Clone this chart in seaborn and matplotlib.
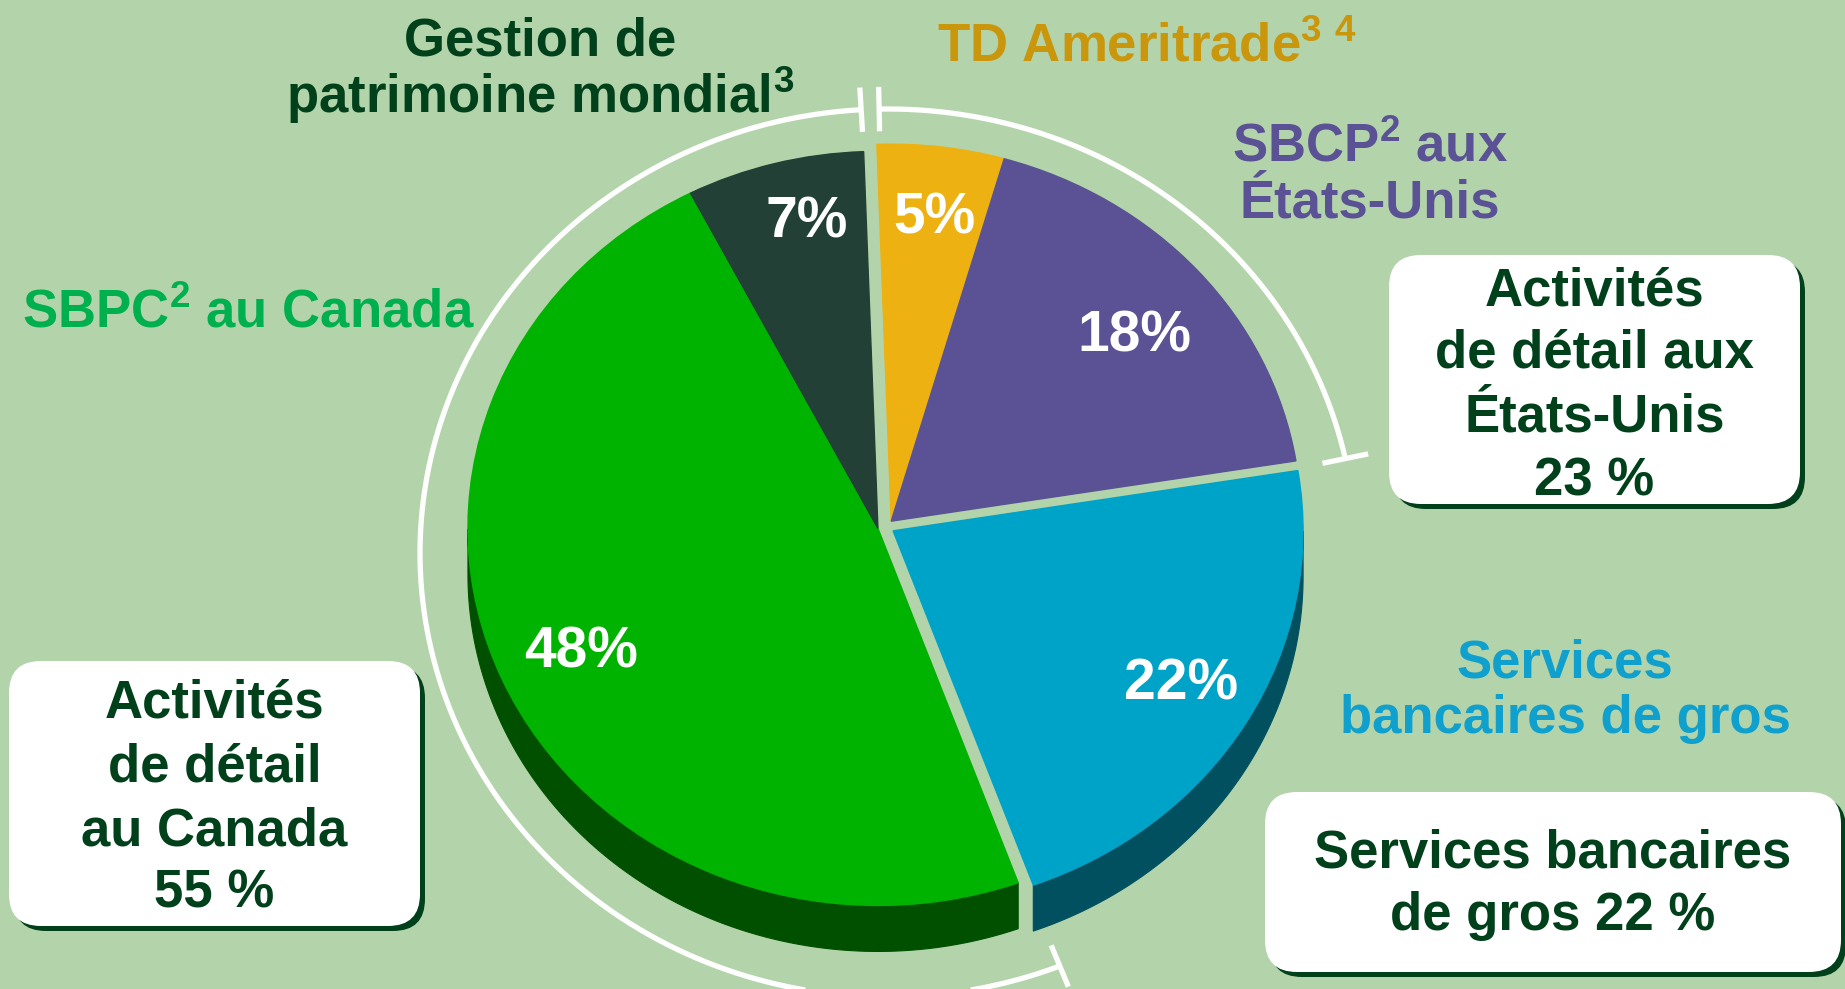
import numpy as np
import matplotlib
matplotlib.use('Agg')
import matplotlib.pyplot as plt
import seaborn as sns
from matplotlib.patches import FancyBboxPatch
from matplotlib.transforms import Affine2D

# Pie segments, clockwise from 12 o'clock
segments = ['TD Ameritrade', 'SBCP aux États-Unis', 'Services bancaires de gros',
            'SBPC au Canada', 'Gestion de patrimoine mondial']
shares = [5, 18, 22, 48, 7]
pct_text = ['5%', '18%', '22%', '48%', '7%']
segment_group = ['us', 'us', 'gros', 'canada', 'canada']

# Totals per business group (white boxes)
group_keys = ['us', 'gros', 'canada']
group_totals = [23, 22, 55]
group_lines = [['Activités', 'de détail aux', 'États-Unis', '{} %'],
               ['Services bancaires', 'de gros {} %'],
               ['Activités', 'de détail', 'au Canada', '{} %']]

# Colours
BG = '#B3D4AA'
DARK = '#00401A'
top_colors = ['#EDB111', '#5A5294', '#00A3C8', '#00B300', '#224035']
side_colors = ['#A67C0C', '#3B3668', '#00505F', '#005000', '#15291F']

W, H = 1845, 989
CX, CY, RX, RY = 886, 527, 410, 377      # pie top face (pixels)
DEPTH = 46
EXPLODE = 0.02
A_CX, A_CY, A_RX, A_RY = 888, 553, 468, 444  # white bracket arcs

sns.set_theme(style='white')
plt.rcParams['font.family'] = ['Liberation Sans', 'DejaVu Sans']
plt.rcParams['font.weight'] = 'bold'
plt.rcParams['mathtext.fontset'] = 'custom'
plt.rcParams['mathtext.rm'] = 'Liberation Sans:bold'
plt.rcParams['mathtext.bf'] = 'Liberation Sans:bold'
plt.rcParams['mathtext.default'] = 'bf'

fig = plt.figure(figsize=(W / 100, H / 100), dpi=100, facecolor=BG)
ax = fig.add_axes([0, 0, 1, 1])
ax.set_facecolor(BG)

wedges, _ = ax.pie(shares, colors=top_colors, startangle=92, counterclock=False)
ax.set_aspect('auto')
ax.set_xlim(0, W)
ax.set_ylim(H, 0)
ax.axis('off')

# offset of each group (exploded pie)
offsets = {}
for g in group_keys:
    th = [(w.theta1, w.theta2) for w, sg in zip(wedges, segment_group) if sg == g]
    mid = np.radians((min(t[0] for t in th) + max(t[1] for t in th)) / 2)
    offsets[g] = (EXPLODE * np.cos(mid), EXPLODE * np.sin(mid))

for w, g, side in zip(wedges, segment_group, side_colors):
    ox, oy = offsets[g]
    w.set_transform(Affine2D().translate(ox, oy).scale(RX, -RY).translate(CX, CY) + ax.transData)
    w.set_edgecolor(w.get_facecolor())
    w.set_linewidth(1)
    w.set_zorder(3)
    # visible front side of the 3D pie
    th = np.radians(np.linspace(w.theta1, w.theta2, 600))
    th = th[np.sin(th) <= 0]
    if len(th) > 1:
        xs = CX + RX * (np.cos(th) + ox)
        ys = CY - RY * (np.sin(th) + oy)
        ax.fill(np.r_[xs, xs[::-1]], np.r_[ys, ys[::-1] + DEPTH],
                color=side, lw=0.8, ec=side, zorder=2)


def arc_param(phi_deg):
    # where the pie boundary ray meets the bracket ellipse
    phi = np.radians(phi_deg)
    d = np.array([RX * np.cos(phi), -RY * np.sin(phi)])
    p0 = np.array([CX - A_CX, CY - A_CY])
    a = (d[0] / A_RX) ** 2 + (d[1] / A_RY) ** 2
    b = 2 * (p0[0] * d[0] / A_RX ** 2 + p0[1] * d[1] / A_RY ** 2)
    c = (p0[0] / A_RX) ** 2 + (p0[1] / A_RY) ** 2 - 1
    t = (-b + np.sqrt(b * b - 4 * a * c)) / (2 * a)
    q = p0 + t * d
    return np.arctan2(-q[1] / A_RY, q[0] / A_RX)


def bracket(t0, t1):
    t = np.linspace(t0, t1, 300)
    ax.plot(A_CX + A_RX * np.cos(t), A_CY - A_RY * np.sin(t), color='white', lw=3.8,
            solid_capstyle='butt', zorder=4)
    for te in (t0, t1):
        s = np.array([0.95, 1.05])
        ax.plot(A_CX + s * A_RX * np.cos(te), A_CY - s * A_RY * np.sin(te), color='white',
                lw=3.8, solid_capstyle='butt', zorder=4)


gap = np.radians(1.1)
us = [w for w, g in zip(wedges, segment_group) if g == 'us']
ca = [w for w, g in zip(wedges, segment_group) if g == 'canada']
top_t = arc_param(us[0].theta2)
bracket(arc_param(us[-1].theta1), top_t - gap)
bracket(top_t + gap, arc_param(ca[0].theta2) + 2 * np.pi)

# percentage labels
pct_pos = [(934, 233), (1134, 351), (1181, 700), (581, 668), (807, 237)]
for txt, (x, y) in zip(pct_text, pct_pos):
    ax.text(x, y, txt, color='white', fontsize=41, fontweight='bold', ha='center',
            va='baseline', zorder=5)

# segment labels
seg_labels = [
    (['Gestion de', r'patrimoine mondial$^{3}$'], 540, [56, 113], DARK),
    ([r'TD Ameritrade$^{3\ 4}$'], 1147, [61], '#C9960C'),
    ([r'SBCP$^{2}$ aux', 'États-Unis'], 1370, [161, 218], '#5A5294'),
    ([r'SBPC$^{2}$ au Canada'], 248, [327], '#00B04F'),
    (['Services', 'bancaires de gros'], 1565, [677, 733], '#0FA0CE'),
]
for lines, x, ys, col in seg_labels:
    for line, y in zip(lines, ys):
        ax.text(x, y, line, color=col, fontsize=38, fontweight='bold', ha='center',
                va='baseline', zorder=5)

# white boxes with group totals
boxes = [(1389, 255, 411, 249), (1265, 792, 576, 180), (9, 661, 411, 265)]
box_baselines = [[305, 368, 432, 495], [868, 930], [717, 781, 845, 908]]
for (x0, y0, bw, bh), lines, total, ys in zip(boxes, group_lines, group_totals, box_baselines):
    for dxy, col in ((5, DARK), (0, 'white')):
        ax.add_patch(FancyBboxPatch((x0 + dxy, y0 + dxy), bw, bh,
                                    boxstyle='round,pad=0,rounding_size=32',
                                    fc=col, ec='none', zorder=6))
    for line, y in zip(lines, ys):
        ax.text(x0 + bw / 2, y, line.format(total), color=DARK, fontsize=38,
                fontweight='bold', ha='center', va='baseline', zorder=7)

fig.savefig('out.png', dpi=100, facecolor=BG)
